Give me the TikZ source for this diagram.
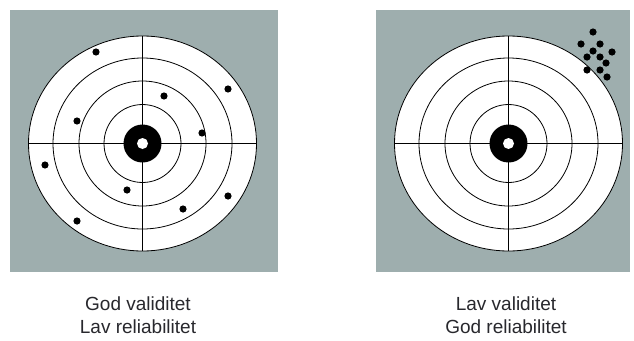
\documentclass[tikz,border=0pt]{standalone}
\usepackage{fontspec}
\setmainfont{Liberation Sans}
\definecolor{panelgray}{RGB}{158,174,174}
\definecolor{labeltext}{RGB}{40,40,45}
\tikzset{
  panel/.style={fill=panelgray, draw=none},
  ring/.style={draw=black, line width=0.8pt},
  hit/.style={fill=black, draw=none},
  caption/.style={text=labeltext, align=center, font=\fontsize{19}{22.5}\selectfont, inner sep=0pt}
}
\newcommand{\drawtarget}[2]{%
  \fill[white] (#1,#2) ellipse [x radius=114, y radius=107.5];
  \draw[ring] (#1,#2) ellipse [x radius=114, y radius=107.5];
  \draw[ring] (#1,#2) ellipse [x radius=89.5, y radius=85.5];
  \draw[ring] (#1,#2) ellipse [x radius=63.5, y radius=62.5];
  \draw[ring] (#1,#2) ellipse [x radius=38.5, y radius=39];
  \draw[ring] ({#1-114},#2) -- ({#1+114},#2);
  \draw[ring] (#1,{#2-107.5}) -- (#1,{#2+107.5});
  \fill[black] (#1,#2) circle [radius=19];
  \fill[white] (#1,#2) circle [radius=5.5];
}
\begin{document}
\begin{tikzpicture}[x=1pt,y=-1pt]
\useasboundingbox (0,0) rectangle (634,340);
\fill[white] (0,0) rectangle (634,340);
% left panel
\fill[panel] (10,10) rectangle (278,272);
\drawtarget{142.5}{143.5}
\foreach \px/\py in {96/52,228/89,164/96,77/121,202/133,45/165,127/190,228/196,183/209,77/221}
  \fill[hit] (\px,\py) circle [radius=3.6];
% right panel
\fill[panel] (376,10) rectangle (630,272);
\drawtarget{508.5}{143.5}
\foreach \px/\py in {593/32,581/44,600/44,593/51,612/52,587/57,600/57,606/63,587/70,600/70,607/77}
  \fill[hit] (\px,\py) circle [radius=3.6];
% captions
\node[caption] (capL) at (138,315) {God validitet\\Lav reliabilitet};
\node[caption] (capR) at (506,315) {Lav validitet\\God reliabilitet};
\end{tikzpicture}
\end{document}
